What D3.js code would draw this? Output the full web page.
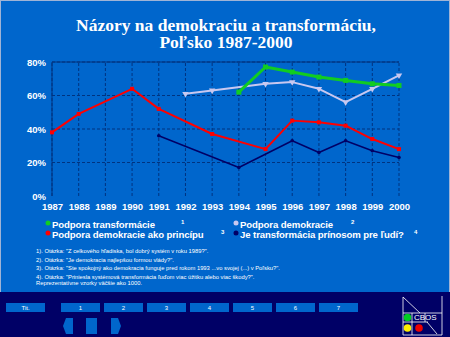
<!DOCTYPE html>
<html>
<head>
<meta charset="utf-8">
<script src="https://cdn.jsdelivr.net/npm/d3@7"></script>
<style>
  body { margin: 0; background: #0066cc; }
  svg { display: block; }
</style>
</head>
<body>
<svg id="drawing_region"></svg>
<script>
// series data
var transformYears = [1994, 1995, 1996, 1997, 1998, 1999, 2000];
var transformValues = [62, 77, 74, 71, 69, 67, 66];

var democracyYears = [1992, 1993, 1995, 1996, 1997, 1998, 1999, 2000];
var democracyValues = [61, 63, 67, 68, 64, 56, 64, 72];

var principleYears = [1987, 1988, 1990, 1991, 1993, 1995, 1996, 1997, 1998, 1999, 2000];
var principleValues = [38, 49, 64, 52, 37, 28, 45, 44, 42, 34, 28];

var benefitYears = [1991, 1994, 1996, 1997, 1998, 1999, 2000];
var benefitValues = [36, 17, 33, 26, 33, 27, 23];

var xTicks = d3.range(1987, 2001);
var yTicks = [0, 20, 40, 60, 80];

var titleLines = ['Názory na demokraciu a transformáciu,', 'Poľsko 1987-2000'];
var legendLabels = ['Podpora transformácie', 'Podpora demokracie', 'Podpora demokracie  ako princípu', 'Je transformácia prínosom pre ľudí?'];
var notes = [
  '1). Otázka: "Z celkového hľadiska, bol dobrý systém v roku 1989?".',
  '2). Otázka: "Je demokracia najlepšou formou vlády?".',
  '3). Otázka: "Ste spokojný ako demokracia funguje  pred rokom 1993  ...vo svojej (...) v Poľsku?".',
  '4). Otázka: "Priniesla systémová  transformácia ľuďom viac úžitku alebo viac škody?".',
  'Reprezentatívne vzorky väčšie ako 1000.'
];
var buttons = ['Tit.', '1', '2', '3', '4', '5', '6', '7'];

var width = 450, height = 337;
var svg = d3.select('#drawing_region')
    .attr('width', width)
    .attr('height', height);

svg.append('rect').attr('x', 0.5).attr('y', 0.5).attr('width', width - 1).attr('height', height - 1)
    .attr('fill', '#0066cc').attr('stroke', '#9fb4d6');

// title
svg.append('text')
    .attr('x', 226).attr('y', 31)
    .attr('text-anchor', 'middle')
    .attr('font-family', '"Liberation Serif", "Times New Roman", serif')
    .attr('font-weight', 'bold').attr('font-size', 17.5)
    .attr('fill', '#ffffff')
    .selectAll('tspan').data(titleLines).join('tspan')
    .attr('x', 226).attr('dy', (d, i) => i ? 17 : 0)
    .text(d => d);

// scales
const xscale = d3.scaleLinear().domain([1987, 2000]).range([52, 399]);
const yscale = d3.scaleLinear().domain([0, 80]).range([196, 62]);

const grid = svg.append('g');
grid.selectAll('line.v').data(xTicks).join('line')
    .attr('x1', d => xscale(d)).attr('x2', d => xscale(d))
    .attr('y1', yscale(0)).attr('y2', yscale(80))
    .attr('stroke', '#00337f').attr('stroke-dasharray', '3,2');
grid.selectAll('line.h').data(yTicks.filter(d => d > 0)).join('line')
    .attr('x1', xscale(1987)).attr('x2', xscale(2000))
    .attr('y1', d => yscale(d)).attr('y2', d => yscale(d))
    .attr('stroke', '#00337f').attr('stroke-dasharray', '3,2');
grid.append('line')
    .attr('x1', xscale(1987)).attr('x2', xscale(2000))
    .attr('y1', yscale(80)).attr('y2', yscale(80))
    .attr('stroke', '#00337f');
grid.append('line')
    .attr('x1', xscale(1987)).attr('x2', xscale(1987))
    .attr('y1', yscale(0)).attr('y2', yscale(80))
    .attr('stroke', '#00337f');

// axes
const yaxis = d3.axisLeft(yscale).tickValues(yTicks).tickFormat(d => d + '%').tickSize(0).tickPadding(6);
const xaxis = d3.axisBottom(xscale).tickValues(xTicks).tickFormat(d3.format('d')).tickSize(0).tickPadding(7);

const yaxis_group = svg.append('g').attr('transform', `translate(${xscale(1987)}, 0)`).call(yaxis);
const xaxis_group = svg.append('g').attr('transform', `translate(0, ${yscale(0)})`).call(xaxis);
[yaxis_group, xaxis_group].forEach(g => {
  g.select('.domain').remove();
  g.selectAll('text')
    .attr('fill', '#ffffff')
    .attr('font-family', '"Liberation Sans", Arial, sans-serif')
    .attr('font-weight', 'bold').attr('font-size', 9.5);
});

// lines
const line = d3.line().x(d => xscale(d[0])).y(d => yscale(d[1]));

function series(years, values, color, w) {
  var pts = years.map((y, i) => [y, values[i]]);
  svg.append('path').attr('d', line(pts))
      .attr('fill', 'none').attr('stroke', color).attr('stroke-width', w)
      .attr('stroke-linejoin', 'round');
  return pts;
}

var benefitPts = series(benefitYears, benefitValues, '#000066', 1.5);
svg.selectAll('circle.benefit').data(benefitPts).join('circle')
    .attr('cx', d => xscale(d[0])).attr('cy', d => yscale(d[1])).attr('r', 1.8)
    .attr('fill', '#000066');

var principlePts = series(principleYears, principleValues, '#ff0000', 2);
svg.selectAll('rect.principle').data(principlePts).join('rect')
    .attr('x', d => xscale(d[0]) - 2).attr('y', d => yscale(d[1]) - 2)
    .attr('width', 4).attr('height', 4).attr('fill', '#ff0000');

var democracyPts = series(democracyYears, democracyValues, '#c8c8f0', 2);
svg.selectAll('path.democracy').data(democracyPts).join('path')
    .attr('d', d3.symbol(d3.symbolTriangle, 18)())
    .attr('transform', d => `translate(${xscale(d[0])},${yscale(d[1])}) rotate(180)`)
    .attr('fill', '#c8c8f0');

var transformPts = series(transformYears, transformValues, '#11cc22', 3);
svg.selectAll('rect.transform').data(transformPts).join('rect')
    .attr('x', d => xscale(d[0]) - 2.5).attr('y', d => yscale(d[1]) - 2.5)
    .attr('width', 5).attr('height', 5).attr('fill', '#11cc22');

// legend
var legendColors = ['#11cc22', '#c8c8f0', '#ff0000', '#000066'];
var legendPos = [[52, 228], [240, 228], [52, 238], [240, 238]];
var supers = ['1', '2', '3', '4'];
var supX = [181, 351, 221, 414];
const legend = svg.append('g')
    .attr('font-family', '"Liberation Sans", Arial, sans-serif')
    .attr('font-weight', 'bold').attr('fill', '#ffffff');
legendLabels.forEach((lab, i) => {
  legend.append('circle')
      .attr('cx', legendPos[i][0] - 4).attr('cy', legendPos[i][1] - 5).attr('r', 2.5)
      .attr('fill', legendColors[i]);
  legend.append('text')
      .attr('x', legendPos[i][0]).attr('y', legendPos[i][1])
      .attr('font-size', 9.6).attr('letter-spacing', -0.1).text(lab);
  legend.append('text')
      .attr('x', supX[i]).attr('y', legendPos[i][1] - 4)
      .attr('font-size', 6).text(supers[i]);
});

// footnotes
svg.append('g')
    .attr('font-family', '"Liberation Sans", Arial, sans-serif')
    .attr('font-size', 5.8).attr('fill', '#ffffff')
    .selectAll('text').data(notes).join('text')
    .attr('x', 36).attr('y', (d, i) => 253 + i * 8.5 - (i == 4 ? 2 : 0))
    .text(d => d);

// bottom navigation bar
svg.append('rect').attr('x', 0).attr('y', 292).attr('width', width).attr('height', 45).attr('fill', '#000066');
var btnX = [6, 61, 104, 147, 190, 233, 276, 319];
const nav = svg.append('g');
buttons.forEach((b, i) => {
  nav.append('rect').attr('x', btnX[i]).attr('y', 303).attr('width', 39).attr('height', 9).attr('fill', '#0066cc');
  nav.append('text').attr('x', btnX[i] + 19.5).attr('y', 310)
      .attr('text-anchor', 'middle').attr('font-size', 6)
      .attr('font-family', '"Liberation Sans", Arial, sans-serif')
      .attr('fill', '#ffffff').text(b);
});
nav.append('path').attr('d', 'M63,326 L66,318 L73,318 L73,334 L66,334 Z').attr('fill', '#0066cc');
nav.append('rect').attr('x', 86).attr('y', 318).attr('width', 11).attr('height', 16).attr('fill', '#0066cc');
nav.append('path').attr('d', 'M111,318 L118,318 L121,326 L118,334 L111,334 Z').attr('fill', '#0066cc');

// CBOS logo
const logo = svg.append('g').attr('stroke', '#ffffff').attr('fill', 'none').attr('stroke-width', 0.8);
logo.append('path').attr('d', 'M403,297 L403,335 L442,335 L442,296');
logo.append('path').attr('d', 'M403,297 L420,313 M403,313 L442,313 M403,322 L428,322 M427,322 L437,334 M412,313 L412,335 M425,313 L425,322');
svg.append('circle').attr('cx', 407.5).attr('cy', 317.5).attr('r', 3.8).attr('fill', '#00cc22');
svg.append('circle').attr('cx', 407.5).attr('cy', 328).attr('r', 3.8).attr('fill', '#ffee00');
svg.append('circle').attr('cx', 419).attr('cy', 328).attr('r', 3.8).attr('fill', '#ee0000');
svg.append('text').attr('x', 414).attr('y', 320).attr('font-size', 8)
    .attr('font-family', '"Liberation Sans", Arial, sans-serif')
    .attr('fill', '#ffffff').text('CBOS');
</script>
</body>
</html>
